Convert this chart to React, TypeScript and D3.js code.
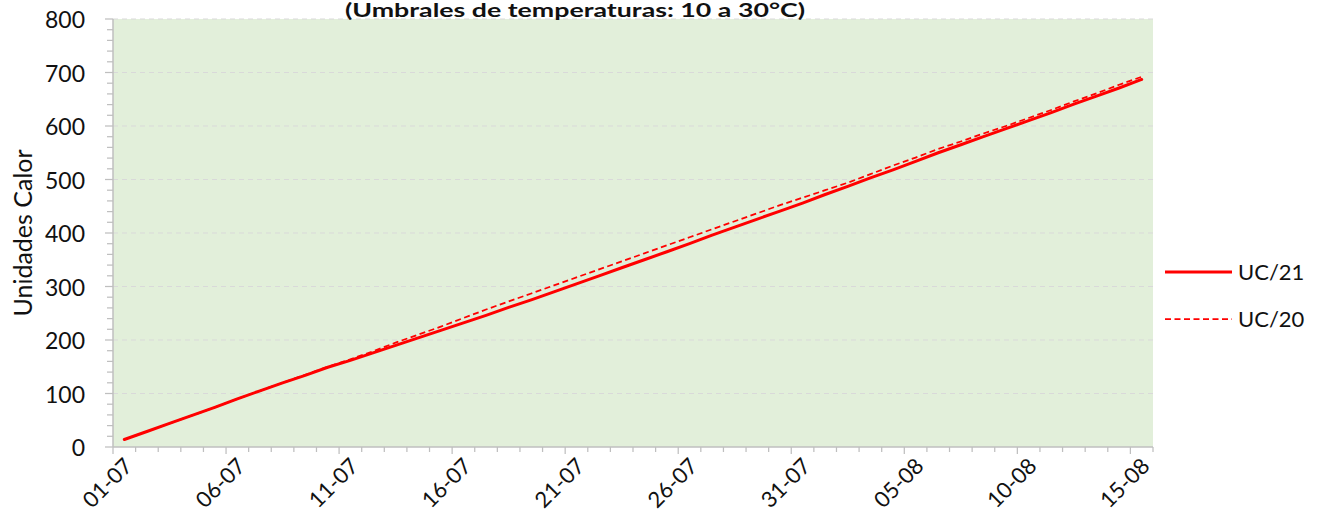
import React from 'react';
import * as d3 from 'd3';

const days: string[] = [
  '01-07','02-07','03-07','04-07','05-07','06-07','07-07','08-07','09-07','10-07',
  '11-07','12-07','13-07','14-07','15-07','16-07','17-07','18-07','19-07','20-07',
  '21-07','22-07','23-07','24-07','25-07','26-07','27-07','28-07','29-07','30-07',
  '31-07','01-08','02-08','03-08','04-08','05-08','06-08','07-08','08-08','09-08',
  '10-08','11-08','12-08','13-08','14-08','15-08'
];

const labelDays: string[] = ['01-07','06-07','11-07','16-07','21-07','26-07','31-07','05-08','10-08','15-08'];

const uc21: number[] = [
  14, 29, 44, 59, 74, 90, 105, 120, 134, 149,
  162, 176, 190, 204, 218, 232, 246, 261, 275, 290,
  305, 320, 335, 350, 365, 380, 396, 411, 426, 441,
  456, 472, 487, 503, 518, 534, 550, 565, 580, 595,
  610, 625, 641, 656, 671, 687
];

const uc20: number[] = [
  14, 29, 44, 59, 74, 90, 105, 120, 135, 150,
  164, 179, 195, 210, 225, 241, 257, 272, 287, 302,
  317, 332, 347, 362, 377, 392, 407, 422, 437, 452,
  466, 480, 494, 510, 526, 541, 557, 571, 586, 600,
  615, 630, 646, 661, 677, 692
];

const yTicks: number[] = [0, 100, 200, 300, 400, 500, 600, 700, 800];
const yMinor: number[] = d3.range(0, 801, 20);

const FONT = 'Lato, "Open Sans", sans-serif';

export default function App() {
  const W = 1319, H = 525;
  const L = 113, R = 1153, T = 19, B = 447;
  const x = d3.scaleBand<string>().domain(days).range([L, R]).padding(0);
  const y = d3.scaleLinear().domain([0, 800]).range([B, T]);
  const cx = (d: string) => (x(d) as number) + x.bandwidth() / 2;
  const line = d3.line<number>().x((_, i) => cx(days[i])).y((v) => y(v));
  const boundaries = days.map((d) => x(d) as number).concat([R]);
  const axisCol = '#BFBFBF';
  const txt = '#111';

  return (
    <svg width={W} height={H} style={{ position: 'absolute', left: 0, top: 0, background: '#fff' }} fontFamily={FONT}>
      <rect x={L} y={T} width={R - L} height={B - T} fill="#E2EFDA" />
      {yTicks.slice(1).map((t) => (
        <line key={'g' + t} x1={L} x2={R} y1={y(t)} y2={y(t)} stroke="#D9D9D9" strokeWidth={1} strokeDasharray="5,4" />
      ))}
      {/* y axis */}
      <line x1={L} x2={L} y1={T} y2={B} stroke={axisCol} strokeWidth={1.5} />
      {yMinor.map((t) => (
        <line key={'ym' + t} x1={t % 100 === 0 ? L - 8 : L - 6} x2={L} y1={y(t)} y2={y(t)} stroke={axisCol} strokeWidth={1.25} />
      ))}
      {yTicks.map((t) => (
        <text key={'yl' + t} x={85} y={y(t) + 9} textAnchor="end" fontSize={23} fill={txt}>{t}</text>
      ))}
      <text transform={`translate(32,${(T + B) / 2}) rotate(-90)`} textAnchor="middle" fontSize={25} fill={txt}>Unidades Calor</text>
      {/* x axis */}
      <line x1={L} x2={R} y1={B} y2={B} stroke={axisCol} strokeWidth={1.5} />
      {boundaries.map((bx, i) => (
        <line key={'xt' + i} x1={bx} x2={bx} y1={B} y2={B + (i % 5 === 0 ? 7 : 5)} stroke={axisCol} strokeWidth={1.25} />
      ))}
      {labelDays.map((d) => (
        <text key={'xl' + d} transform={`translate(${cx(d) + 4},${B + 15}) rotate(-45)`} textAnchor="end" fontSize={22} fill={txt} dy="0.35em">{d}</text>
      ))}
      {/* series */}
      <path d={line(uc21) || ''} fill="none" stroke="#FF0000" strokeWidth={3} strokeLinejoin="round" strokeLinecap="round" />
      <path d={line(uc20) || ''} fill="none" stroke="#FF0000" strokeWidth={1.75} strokeDasharray="6,3.5" />
      {/* title */}
      <text x={345} y={17} textLength={460} lengthAdjust="spacingAndGlyphs" fontSize={18} fontWeight="bold" fill={txt}>(Umbrales de temperaturas: 10 a  30°C)</text>
      {/* legend */}
      <line x1={1165} x2={1232} y1={272} y2={272} stroke="#FF0000" strokeWidth={3} />
      <text x={1238} y={280} fontSize={22} fill={txt}>UC/21</text>
      <line x1={1165} x2={1232} y1={319} y2={319} stroke="#FF0000" strokeWidth={1.75} strokeDasharray="6,3.5" />
      <text x={1238} y={327} fontSize={22} fill={txt}>UC/20</text>
    </svg>
  );
}
